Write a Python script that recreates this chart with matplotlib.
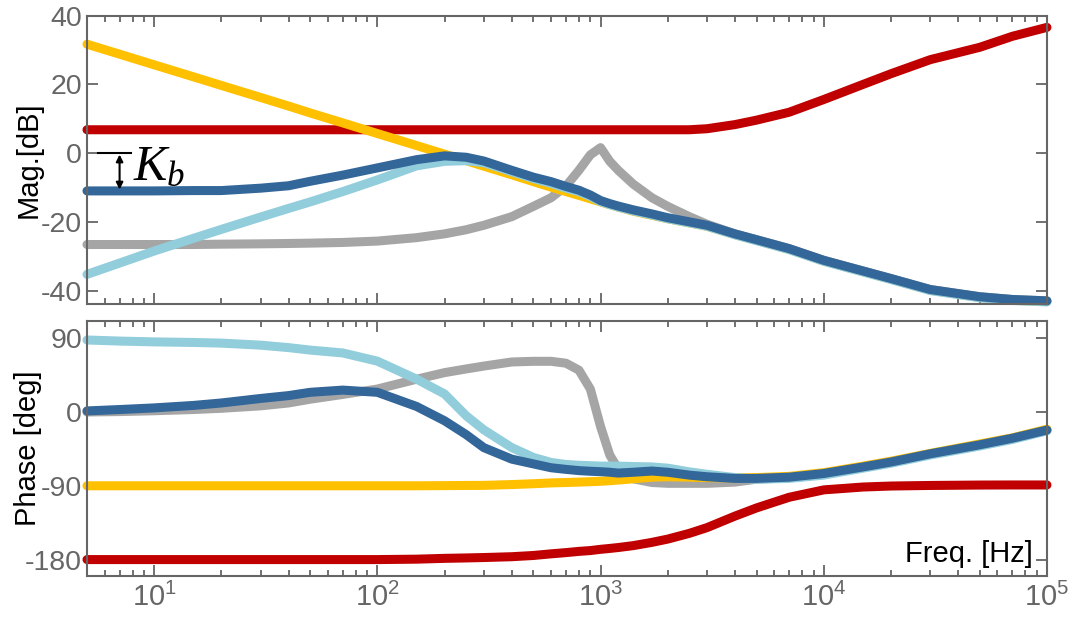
import matplotlib
matplotlib.use("Agg")
import matplotlib.pyplot as plt
from matplotlib.ticker import LogLocator, NullFormatter

plt.rcParams['font.family'] = ['Liberation Sans', 'DejaVu Sans']
plt.rcParams['mathtext.fontset'] = 'custom'
plt.rcParams['mathtext.rm'] = 'Liberation Sans'
plt.rcParams['mathtext.it'] = 'Liberation Serif:italic'
plt.rcParams['mathtext.bf'] = 'Liberation Sans:bold'

# frequency grid [Hz]
freq = [5, 7, 10, 15, 20, 30, 40, 50, 70, 100, 150, 200, 250, 300, 400, 500,
        600, 700, 800, 900, 1000, 1100, 1200, 1400, 1700, 2000, 2500, 3000,
        4000, 5000, 7000, 1e4, 1.5e4, 2e4, 3e4, 5e4, 7e4, 1e5]

# magnitude [dB]
mag_yellow = [31.7, 28.8, 25.7, 22.2, 19.7, 16.2, 13.7, 11.7, 8.8, 5.7, 2.2, -0.3,
              -2.2, -3.8, -6.3, -8.3, -9.9, -11.2, -12.3, -13.3, -14.2, -15.0,
              -15.7, -16.9, -18.1, -19.1, -20.3, -21.3, -23.7, -25.4, -28.0,
              -31.4, -34.5, -36.7, -39.9, -42.0, -42.8, -43.2]
mag_red = [6.8, 6.8, 6.8, 6.8, 6.8, 6.8, 6.8, 6.8, 6.8, 6.8, 6.8, 6.8, 6.8, 6.8,
           6.8, 6.8, 6.8, 6.8, 6.8, 6.8, 6.8, 6.8, 6.8, 6.8, 6.8, 6.8, 6.8, 7.1,
           8.3, 9.6, 11.9, 15.6, 20.0, 23.1, 27.2, 30.8, 34.0, 36.6]
mag_gray = [-26.6, -26.6, -26.6, -26.6, -26.5, -26.4, -26.3, -26.2, -26.0, -25.6,
            -24.6, -23.5, -22.3, -21.0, -18.5, -15.5, -13.0, -9.6, -5.0, -0.5,
            1.6, -2.4, -5.0, -9.0, -13.0, -15.5, -18.5, -20.7, -23.5, -25.2,
            -27.8, -31.2, -34.3, -36.5, -39.7, -41.8, -42.6, -43.0]
mag_lightblue = [-35.3, -32.0, -28.5, -24.8, -22.2, -18.6, -16.1, -14.2, -11.2,
                 -7.8, -3.7, -2.4, -2.2, -2.8, -5.4, -7.4, -8.8, -10.2, -11.2,
                 -12.6, -14.1, -15.0, -15.7, -16.8, -18.0, -19.1, -20.3, -21.3,
                 -23.8, -25.5, -28.1, -31.5, -34.6, -36.8, -40.0, -42.1, -42.9,
                 -43.3]
mag_blue = [-11.0, -11.0, -11.0, -10.9, -10.9, -10.2, -9.5, -8.2, -6.4, -4.3, -1.9,
            -0.8, -1.2, -2.3, -5.0, -7.0, -8.3, -9.7, -10.8, -12.2, -13.8, -14.7,
            -15.4, -16.5, -17.7, -18.8, -20.0, -21.0, -23.5, -25.2, -27.8, -31.2,
            -34.3, -36.5, -39.7, -41.8, -42.6, -43.0]

# phase [deg]
ph_yellow = [-90, -90, -90, -90, -90, -90, -90, -90, -90, -90, -90, -89.8, -89.6,
             -89.5, -88.5, -87.5, -86.5, -86.0, -85.5, -85.0, -84.5, -83.8, -83.0,
             -81.5, -79.5, -79.0, -79.5, -80.0, -80.5, -80.0, -78.5, -74.0, -66.0,
             -60.0, -50.5, -39.0, -31.5, -21.0]
ph_red = [-180, -180, -180, -180, -180, -180, -180, -180, -180, -180, -179.5,
          -178.5, -178.0, -177.5, -176.5, -175.0, -173.0, -171.5, -170.0, -169.0,
          -167.5, -166.4, -165.3, -163.0, -159.0, -155.0, -148.0, -141.0, -127.0,
          -117.0, -104.0, -95.0, -91.5, -90.3, -89.6, -89.1, -89.0, -89.0]
ph_gray = [0, 0.5, 1.5, 3, 4.5, 7.5, 11, 15.6, 21.4, 28, 40, 48, 52.5, 56, 61, 61.8,
           61.8, 59.5, 51, 28, -17.7, -52.6, -69.4, -81.5, -86, -87, -87, -87,
           -85.5, -82, -80, -75, -67, -61, -51, -40, -32, -22]
ph_lightblue = [87.8, 86.5, 85.5, 84.8, 84.0, 81.5, 78.5, 75.5, 72.0, 62.0, 40.0,
                22.0, -4.6, -21.8, -43.4, -55.4, -61.5, -64.0, -65.0, -65.5, -66.0,
                -66.0, -66.0, -66.5, -67.0, -68.5, -73.0, -76.0, -80.0, -82.0,
                -81.0, -77.0, -68.5, -62.5, -52.5, -41.5, -33.5, -23.0]
ph_blue = [1.3, 3, 5, 8, 11, 16.5, 20, 24, 26.7, 24, 6.7, -10.7, -27.6, -43.5,
           -57.5, -63.3, -68, -70, -71.5, -72.3, -72.8, -73.5, -74.5, -73.5, -72,
           -73.5, -77, -79, -81, -81, -79.5, -75, -67, -61, -51, -40, -32, -22]

c_yellow = '#FFC000'
c_red = '#C00000'
c_gray = '#A5A5A5'
c_lightblue = '#92CDDC'
c_blue = '#336699'
tick_gray = '#666666'

fig = plt.figure(figsize=(10.79, 6.2), dpi=100)
ax1 = fig.add_axes([0.0806, 0.5092, 0.8897, 0.4655])
ax2 = fig.add_axes([0.0806, 0.0710, 0.8897, 0.4113])

lw = 6.5
for ax, data in ((ax1, (mag_gray, mag_red, mag_yellow, mag_lightblue, mag_blue)),
                 (ax2, (ph_gray, ph_red, ph_yellow, ph_lightblue, ph_blue))):
    for vals, col in zip(data, (c_gray, c_red, c_yellow, c_lightblue, c_blue)):
        ax.plot(freq, vals, color=col, lw=lw, solid_capstyle='round',
                solid_joinstyle='round', clip_on=False)
    ax.set_xscale('log')
    ax.set_xlim(5, 1e5)
    ax.xaxis.set_major_locator(LogLocator(base=10, numticks=10))
    ax.xaxis.set_minor_locator(LogLocator(base=10, subs=range(2, 10), numticks=20))
    ax.xaxis.set_minor_formatter(NullFormatter())
    ax.tick_params(which='both', direction='in', top=True, right=True,
                   color=tick_gray, width=1.3, labelcolor=tick_gray, labelsize=21)
    ax.tick_params(which='major', length=8, pad=5)
    ax.tick_params(which='minor', length=4)
    ax.tick_params(axis='y', labelsize=20.5, pad=3.5)
    for s in ax.spines.values():
        s.set_color(tick_gray)
        s.set_linewidth(1.5)

ax1.set_ylim(-44, 40)
ax1.set_yticks([-40, -20, 0, 20, 40])
ax1.set_yticklabels(['-40', '-20', '0', '20', '40'])
ax1.tick_params(labelbottom=False)
ax1.set_ylabel('Mag.[dB]', fontsize=21)
ax1.yaxis.set_label_coords(-0.046, 0.5)

ax2.set_ylim(-200, 111)
ax2.set_yticks([-180, -90, 0, 90])
ax2.set_yticklabels(['-180', '-90', '0', '90'])
ax2.set_ylabel('Phase [deg]', fontsize=21)
ax2.yaxis.set_label_coords(-0.047, 0.5)
ax2.text(0.985, 0.03, 'Freq. [Hz]', transform=ax2.transAxes, ha='right',
         va='bottom', fontsize=21, color='black')

# K_b annotation
ax1.plot([5.6, 7.9], [0, 0], color='black', lw=1.5)
ax1.annotate('', xy=(7.0, -10.6), xytext=(7.0, -0.4),
             arrowprops=dict(arrowstyle='<|-|>', lw=1.5, color='black',
                             mutation_scale=10, shrinkA=0, shrinkB=0))
ax1.text(8.0, -4.0, r'$K_b$', fontsize=36, va='center', ha='left')

fig.savefig('out.png', dpi=100)
